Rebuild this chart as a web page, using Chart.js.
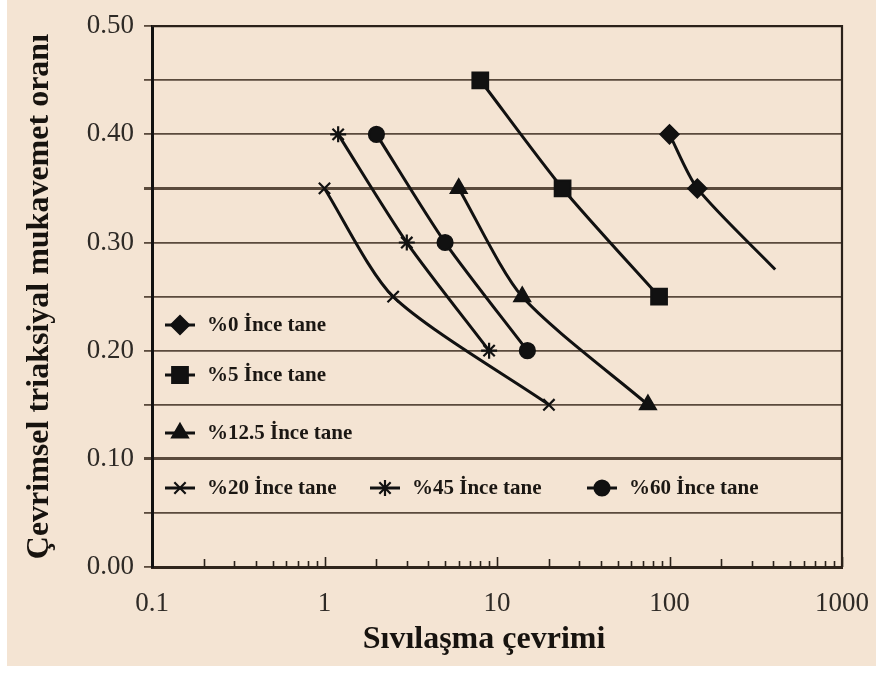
<!DOCTYPE html>
<html>
<head>
<meta charset="utf-8">
<script src="https://cdn.jsdelivr.net/npm/chart.js@4"></script>
<style>
  html, body { margin: 0; padding: 0; background: #fff; }
  #wrap { position: relative; width: 876px; height: 675px; overflow: hidden; }
  #paper { position: absolute; left: 7px; top: 0; width: 869px; height: 666px; background: #f4e4d3; }
  #c { position: absolute; left: 0; top: 0; }
</style>
</head>
<body>
<div id="wrap">
  <div id="paper"></div>
  <canvas id="c" width="876" height="675"></canvas>
</div>
<script>
// ── Daten ──────────────────────────────────────────────────────────────────
const xTicks = [0.1, 1, 10, 100, 1000];
const xTitle = 'Sıvılaşma çevrimi';
const yTitle = 'Çevrimsel triaksiyal mukavemet oranı';
const seriesNames = ['%0 İnce tane', '%5 İnce tane', '%12.5 İnce tane',
                     '%20 İnce tane', '%45 İnce tane', '%60 İnce tane'];

const cycles0   = [100, 145, 410];
const ratio0    = [0.40, 0.35, 0.275];
const cycles5   = [8, 24, 87];
const ratio5    = [0.45, 0.35, 0.25];
const cycles125 = [6, 14, 75];
const ratio125  = [0.35, 0.25, 0.15];
const cycles20  = [1, 2.5, 20];
const ratio20   = [0.35, 0.25, 0.15];
const cycles45  = [1.2, 3, 9];
const ratio45   = [0.40, 0.30, 0.20];
const cycles60  = [2, 5, 15];
const ratio60   = [0.40, 0.30, 0.20];

const INK = '#111';
const SERIF = '"Liberation Serif", "DejaVu Serif", serif';
const pts = (xs, ys) => xs.map((x, i) => ({ x, y: ys[i] }));

// Marker je Reihe; Excel-Stil, schwarz gefuellt
const marks = [
  { style: 'rectRot',  r: 9 },
  { style: 'rect',     r: 11 },
  { style: 'triangle', r: 9 },
  { style: 'crossRot', r: 8 },
  { style: 'star',     r: 8 },
  { style: 'circle',   r: 7.5 },
];

function ds(i, xs, ys, radii) {
  return {
    label: seriesNames[i], data: pts(xs, ys),
    borderColor: INK, backgroundColor: INK, borderWidth: 3, tension: 0.25,
    pointStyle: marks[i].style, pointRadius: radii || marks[i].r,
    pointBorderWidth: 2.2, pointBorderColor: INK, pointBackgroundColor: INK,
  };
}

// ── Plugins ────────────────────────────────────────────────────────────────
// Rahmen oben/rechts, Log-Teilstriche innen an der x-Achse, x-Achsentitel
const frame = {
  id: 'frame',
  afterDraw(ch) {
    const { ctx, chartArea: a, scales } = ch;
    ctx.save();
    ctx.strokeStyle = '#2a2119';
    ctx.lineWidth = 2.2;
    ctx.beginPath();
    ctx.moveTo(a.left, a.top); ctx.lineTo(a.right, a.top); ctx.lineTo(a.right, a.bottom);
    ctx.stroke();
    ctx.lineWidth = 1.6;
    for (let k = 0; k < xTicks.length - 1; k++) {
      for (let m = 2; m <= 10; m++) {
        const x = Math.round(scales.x.getPixelForValue(xTicks[k] * m)) + 0.5;
        const len = m === 10 ? 10 : (m === 2 ? 8 : 6);
        ctx.beginPath(); ctx.moveTo(x, a.bottom); ctx.lineTo(x, a.bottom - len); ctx.stroke();
      }
    }
    // Titel sitzt im Original etwas links der Achsenmitte
    ctx.font = 'bold 32px ' + SERIF;
    ctx.fillStyle = '#17130f';
    ctx.textAlign = 'center';
    ctx.textBaseline = 'middle';
    ctx.fillText(xTitle, 484, 640);
    ctx.restore();
  },
};

// Legende frei im Diagramm, wie im Original (drei Zeilen + eine Dreierzeile)
const legendSpots = [
  [180, 325], [180, 375], [180, 433], [180, 488], [385, 488], [602, 488],
];
const legendIn = {
  id: 'legendIn',
  afterDatasetsDraw(ch) {
    const { ctx } = ch;
    ctx.save();
    ch.data.datasets.forEach((d, i) => {
      const [x, y] = legendSpots[i];
      ctx.strokeStyle = INK; ctx.fillStyle = INK; ctx.lineWidth = 3;
      ctx.beginPath(); ctx.moveTo(x - 15, y); ctx.lineTo(x + 15, y); ctx.stroke();
      ctx.lineWidth = 2.2;
      Chart.helpers.drawPoint(ctx, { pointStyle: marks[i].style, radius: marks[i].r,
        borderWidth: 2.2, rotation: 0 }, x, y);
      ctx.font = 'bold 21px ' + SERIF;
      ctx.textBaseline = 'middle';
      ctx.fillStyle = '#1b1713';
      ctx.fillText(d.label, x + 27, y + 1);
    });
    ctx.restore();
  },
};

// ── Chart ──────────────────────────────────────────────────────────────────
new Chart(document.getElementById('c'), {
  type: 'line',
  data: {
    datasets: [
      ds(0, cycles0, ratio0, [9, 9, 0]),
      ds(1, cycles5, ratio5),
      ds(2, cycles125, ratio125),
      ds(3, cycles20, ratio20),
      ds(4, cycles45, ratio45),
      ds(5, cycles60, ratio60),
    ],
  },
  options: {
    responsive: false, animation: false, devicePixelRatio: 1,
    layout: { padding: { left: 0, top: 24, right: 34, bottom: 0 } },
    plugins: { legend: { display: false }, tooltip: { enabled: false } },
    scales: {
      x: {
        type: 'logarithmic', min: 0.1, max: 1000,
        afterBuildTicks: s => { s.ticks = xTicks.map(v => ({ value: v })); },
        // feste Hoehe; Randabstand der Labels nicht in die Plotbreite rechnen
        afterFit: s => { s.height = 108; s.paddingLeft = 0; s.paddingRight = 0; },
        ticks: { autoSkip: false, maxRotation: 0, padding: 21, color: '#2e2a26',
                 font: { family: SERIF, size: 27 },
                 callback: v => String(v) },
        grid: { drawOnChartArea: false, drawTicks: false },
        border: { display: true, color: '#30251c', width: 3 },
      },
      y: {
        min: 0, max: 0.5,
        afterFit: s => { s.width = 152; },
        ticks: { stepSize: 0.05, padding: 10, color: '#2e2a26',
                 font: { family: SERIF, size: 27 },
                 callback: v => (Math.round(v * 100) % 10 === 0 ? v.toFixed(2) : '') },
        grid: {
          color: '#5a4a3c', tickColor: '#5a4a3c', tickLength: 8,
          lineWidth: c => { const v = Math.round(c.tick.value * 100); return (v === 35 || v === 10) ? 3 : 1.8; },
        },
        border: { display: true, color: INK, width: 3 },
        title: { display: true, text: yTitle, color: '#17130f',
                 font: { family: SERIF, size: 32, weight: 'bold' },
                 padding: { top: 21, bottom: 0 } },
      },
    },
  },
  plugins: [frame, legendIn],
});
</script>
</body>
</html>
